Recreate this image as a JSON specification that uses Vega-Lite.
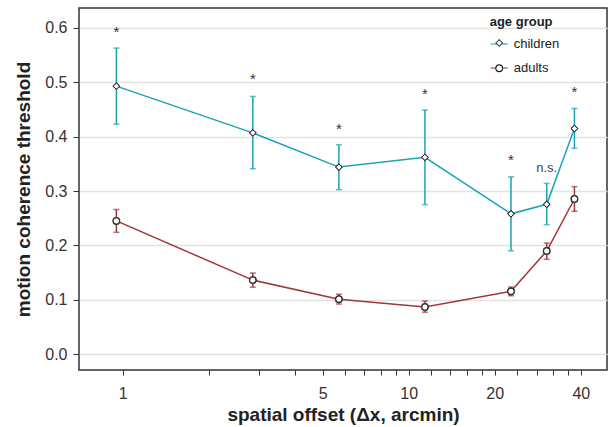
{
  "$schema": "https://vega.github.io/schema/vega-lite/v6.json",
  "width": 528,
  "height": 362,
  "autosize": "none",
  "padding": {"left": 79, "top": 8, "right": 2, "bottom": 57},
  "config": {
    "font": "Liberation Sans",
    "view": {"stroke": "#333333", "strokeWidth": 1.5},
    "axis": {"domain": false, "tickColor": "#333333", "labelColor": "#333333", "labelFontSize": 16, "titleFontSize": 19, "titleFontWeight": "bold", "titleColor": "#222222"}
  },
  "resolve": {"legend": {"shape": "independent"}},
  "datasets": {
    "points": [
      {"group": "children", "x": 0.95, "y": 0.493, "lo": 0.423, "hi": 0.563},
      {"group": "children", "x": 2.85, "y": 0.407, "lo": 0.341, "hi": 0.474},
      {"group": "children", "x": 5.7, "y": 0.344, "lo": 0.3025, "hi": 0.385},
      {"group": "children", "x": 11.4, "y": 0.362, "lo": 0.275, "hi": 0.449},
      {"group": "children", "x": 22.8, "y": 0.258, "lo": 0.19, "hi": 0.326},
      {"group": "children", "x": 30.4, "y": 0.2755, "lo": 0.238, "hi": 0.314},
      {"group": "children", "x": 38, "y": 0.415, "lo": 0.3786, "hi": 0.452},
      {"group": "adults", "x": 0.95, "y": 0.245, "lo": 0.224, "hi": 0.266},
      {"group": "adults", "x": 2.85, "y": 0.136, "lo": 0.123, "hi": 0.149},
      {"group": "adults", "x": 5.7, "y": 0.101, "lo": 0.092, "hi": 0.11},
      {"group": "adults", "x": 11.4, "y": 0.0865, "lo": 0.077, "hi": 0.0976},
      {"group": "adults", "x": 22.8, "y": 0.1154, "lo": 0.1073, "hi": 0.1233},
      {"group": "adults", "x": 30.4, "y": 0.1896, "lo": 0.1743, "hi": 0.2043},
      {"group": "adults", "x": 38, "y": 0.2853, "lo": 0.2627, "hi": 0.308}
    ],
    "notes": [
      {"x": 0.95, "y": 0.6, "label": "*"},
      {"x": 2.85, "y": 0.512, "label": "*"},
      {"x": 5.7, "y": 0.4215, "label": "*"},
      {"x": 11.4, "y": 0.486, "label": "*"},
      {"x": 22.8, "y": 0.3644, "label": "*"},
      {"x": 30.4, "y": 0.341, "label": "n.s."},
      {"x": 38, "y": 0.489, "label": "*"}
    ]
  },
  "layer": [
    {
      "data": {"name": "points"},
      "mark": {"type": "errorbar", "thickness": 1.5, "ticks": {"size": 6, "thickness": 1.5}},
      "encoding": {
        "x": {
          "field": "x", "type": "quantitative",
          "scale": {"type": "log", "domain": [0.703, 49.4], "nice": false},
          "axis": {
            "title": "spatial offset (Δx, arcmin)",
            "values": [1, 2, 3, 4, 5, 6, 7, 8, 9, 10, 12, 14, 16, 18, 20, 24, 28, 32, 36, 40],
            "format": "~g",
            "labelExpr": "indexof([1,5,10,20,40], datum.value) >= 0 ? datum.label : ''",
            "grid": false, "tickSize": 5, "labelPadding": 10, "titlePadding": 4,
            "labelOverlap": false, "labelFlush": false
          }
        },
        "y": {
          "field": "lo", "type": "quantitative",
          "scale": {"domain": [-0.0294, 0.6368], "nice": false, "zero": false},
          "axis": {
            "title": "motion coherence threshold",
            "values": [0, 0.05, 0.1, 0.15, 0.2, 0.25, 0.3, 0.35, 0.4, 0.45, 0.5, 0.55, 0.6],
            "format": ".1f",
            "labelExpr": "round(datum.value*100) % 10 == 0 ? datum.label : ''",
            "tickSize": 6,
            "tickOpacity": {"condition": {"test": "round(datum.value*100) % 10 == 0", "value": 1}, "value": 0},
            "grid": true,
            "gridColor": {"condition": {"test": "round(datum.value*100) % 10 == 0", "value": "#e2e2e2"}, "value": "#f0f0f0"},
            "gridWidth": {"condition": {"test": "round(datum.value*100) % 10 == 0", "value": 1.6}, "value": 1},
            "labelPadding": 6, "titlePadding": 11, "labelOverlap": false
          }
        },
        "y2": {"field": "hi"},
        "color": {
          "field": "group", "type": "nominal",
          "scale": {"domain": ["children", "adults"], "range": ["#19a3b5", "#a0363a"]},
          "legend": {
            "title": "age group", "orient": "none", "legendX": 410.7, "legendY": 8,
            "direction": "vertical", "columns": 1, "padding": 0, "clipHeight": 18,
            "symbolType": "stroke", "symbolSize": 289, "symbolStrokeWidth": 1.5,
            "labelFontSize": 13, "labelColor": "#222222", "labelOffset": 5,
            "titleFontSize": 13, "titleFontWeight": "bold", "titleColor": "#222222", "titlePadding": 6,
            "rowPadding": 6
          }
        }
      }
    },
    {
      "data": {"name": "points"},
      "mark": {"type": "line", "strokeWidth": 1.5},
      "encoding": {
        "x": {"field": "x", "type": "quantitative", "scale": {"type": "log", "domain": [0.703, 49.4], "nice": false}},
        "y": {"field": "y", "type": "quantitative", "scale": {"domain": [-0.0294, 0.6368], "nice": false, "zero": false}, "title": "motion coherence threshold"},
        "color": {
          "field": "group", "type": "nominal",
          "scale": {"domain": ["children", "adults"], "range": ["#19a3b5", "#a0363a"]},
          "legend": {
            "title": "age group", "orient": "none", "legendX": 410.7, "legendY": 8,
            "direction": "vertical", "columns": 1, "padding": 0, "clipHeight": 18,
            "symbolType": "stroke", "symbolSize": 289, "symbolStrokeWidth": 1.5,
            "labelFontSize": 13, "labelColor": "#222222", "labelOffset": 5,
            "titleFontSize": 13, "titleFontWeight": "bold", "titleColor": "#222222", "titlePadding": 6,
            "rowPadding": 6
          }
        }
      }
    },
    {
      "data": {"name": "points"},
      "mark": {"type": "point", "filled": true, "fill": "#222222", "strokeWidth": 0, "opacity": 1, "fillOpacity": 1, "size": 62},
      "encoding": {
        "x": {"field": "x", "type": "quantitative", "scale": {"type": "log", "domain": [0.703, 49.4], "nice": false}},
        "y": {"field": "y", "type": "quantitative", "scale": {"domain": [-0.0294, 0.6368], "nice": false, "zero": false}, "title": "motion coherence threshold"},
        "shape": {
          "field": "group", "type": "nominal", "sort": ["children", "adults"],
          "scale": {"range": ["diamond", "circle"]},
          "legend": {
            "title": null, "orient": "none", "legendX": 410.7, "legendY": 28.5,
            "direction": "vertical", "columns": 1, "padding": 0,
            "symbolSize": 62, "symbolStrokeWidth": 0, "symbolFillColor": "#222222",
            "symbolOffset": 3,
            "labelFontSize": 13, "labelExpr": "''", "labelOffset": 5,
            "rowPadding": 11.3
          }
        }
      }
    },
    {
      "data": {"name": "points"},
      "mark": {"type": "point", "filled": false, "fill": "white", "stroke": "#222222", "strokeWidth": 1, "opacity": 1, "fillOpacity": 1, "size": 40},
      "encoding": {
        "x": {"field": "x", "type": "quantitative", "scale": {"type": "log", "domain": [0.703, 49.4], "nice": false}},
        "y": {"field": "y", "type": "quantitative", "scale": {"domain": [-0.0294, 0.6368], "nice": false, "zero": false}, "title": "motion coherence threshold"},
        "shape": {
          "field": "group", "type": "nominal", "sort": ["children", "adults"],
          "scale": {"range": ["diamond", "circle"]},
          "legend": {
            "title": null, "orient": "none", "legendX": 410.7, "legendY": 28.5,
            "direction": "vertical", "columns": 1, "padding": 0,
            "symbolSize": 30, "symbolStrokeWidth": 1, "symbolFillColor": "white", "symbolStrokeColor": "#222222",
            "symbolOffset": 3,
            "labelFontSize": 13, "labelExpr": "''", "labelOffset": 5,
            "rowPadding": 11.3
          }
        }
      }
    },
    {
      "data": {"name": "notes"},
      "transform": [{"filter": "datum.label == '*'"}],
      "mark": {"type": "text", "fontSize": 15, "color": "#333333", "baseline": "alphabetic", "dy": 8.6},
      "encoding": {
        "x": {"field": "x", "type": "quantitative", "scale": {"type": "log", "domain": [0.703, 49.4], "nice": false}},
        "y": {"field": "y", "type": "quantitative", "scale": {"domain": [-0.0294, 0.6368], "nice": false, "zero": false}, "title": "motion coherence threshold"},
        "text": {"field": "label"}
      }
    },
    {
      "data": {"name": "notes"},
      "transform": [{"filter": "datum.label != '*'"}],
      "mark": {"type": "text", "fontSize": 13, "color": "#444444", "baseline": "alphabetic", "dy": 3.4},
      "encoding": {
        "x": {"field": "x", "type": "quantitative", "scale": {"type": "log", "domain": [0.703, 49.4], "nice": false}},
        "y": {"field": "y", "type": "quantitative", "scale": {"domain": [-0.0294, 0.6368], "nice": false, "zero": false}, "title": "motion coherence threshold"},
        "text": {"field": "label"}
      }
    }
  ]
}
